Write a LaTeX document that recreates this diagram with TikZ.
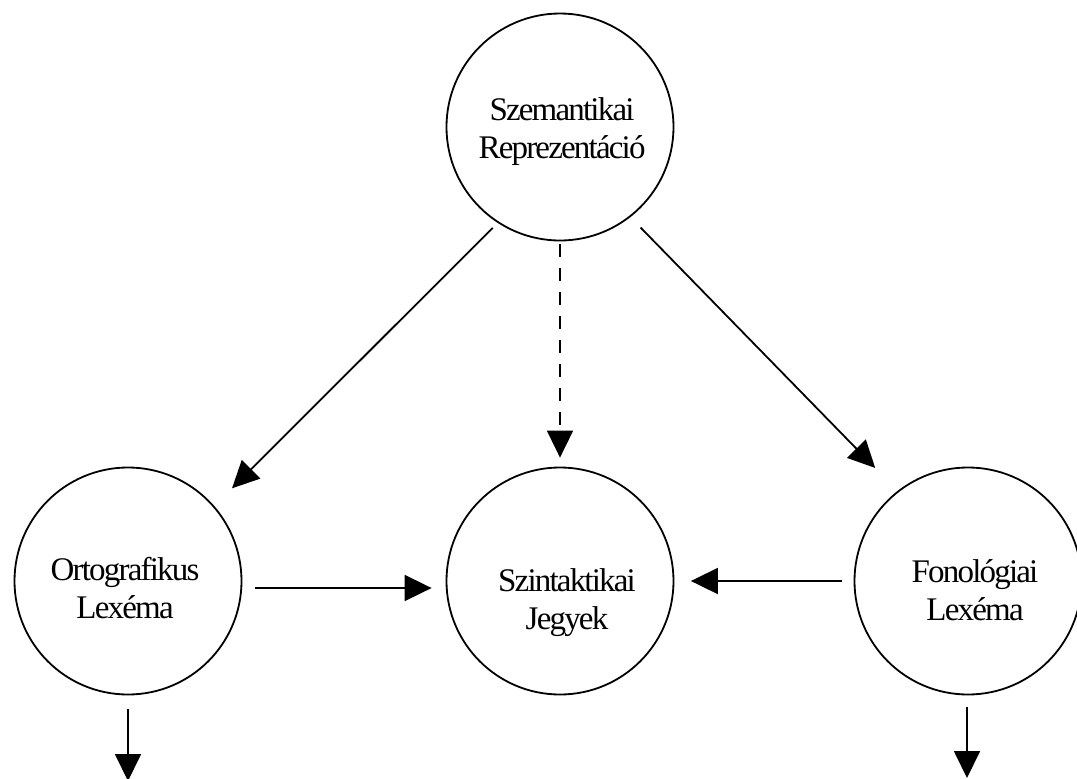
\documentclass[tikz,border=0pt]{standalone}
\usepackage{fontspec}
\setmainfont{Liberation Serif}[LetterSpace=-5.5]
\usetikzlibrary{arrows.meta}

\begin{document}
\begin{tikzpicture}[x=0.5pt,y=-0.5pt,
    bubble/.style={draw,circle,line width=0.9pt,minimum size=113.5pt,inner sep=0pt},
    word/.style={align=center,inner sep=0pt,font=\fontsize{16.5}{19}\selectfont},
    link/.style={line width=0.9pt,-{Triangle[length=13.5pt,width=13pt]}}]
          \useasboundingbox (0,0) rectangle (1077,778);
          \node[bubble] (sem)  at (560,127) {};          % Szemantikai
          \node[bubble] (ort)  at (128,581) {};          % Ortografikus
          \node[bubble] (synt) at (560,581) {};          % Szintaktikai
          \node[bubble] (fon)  at (968,581) {};          % Fonologiai
          \node[word] (semtxt)  at (562,132) {Szemantikai\\Reprezentáció};
          \node[word] (orttxt)  at (125,588) {Ortografikus\\Lexéma};
          \node[word] (synttxt) at (567,603) {Szintaktikai\\Jegyek};
          \node[word] (fontxt)  at (975,590) {Fonológiai\\Lexéma};
          \coordinate (ortout) at (128,781);
          \coordinate (fonout) at (967,778);
          \draw[link,shorten <=3.5pt,shorten >=12.5pt] (sem.-123) -- (ort.41);
          \draw[link,dash pattern=on 6.5pt off 5.5pt,shorten <=1.5pt,shorten >=4.5pt] (sem.south) -- (synt.north);
          \draw[link,shorten <=7.3pt,shorten >=16pt] (sem.-52) -- (fon.128);
          \draw[link,shorten <=6.5pt,shorten >=7pt] ([yshift=-3.5pt]ort.east) -- ([yshift=-3.5pt]synt.west);
          \draw[link,shorten <=5.75pt,shorten >=8.25pt] (fon.west) -- (synt.east);
          \draw[link,shorten <=7pt] (ort.south) -- (ortout);
          \draw[link,shorten <=5.75pt] ([xshift=-0.5pt]fon.south) -- (fonout);
        \end{tikzpicture}
\end{document}
